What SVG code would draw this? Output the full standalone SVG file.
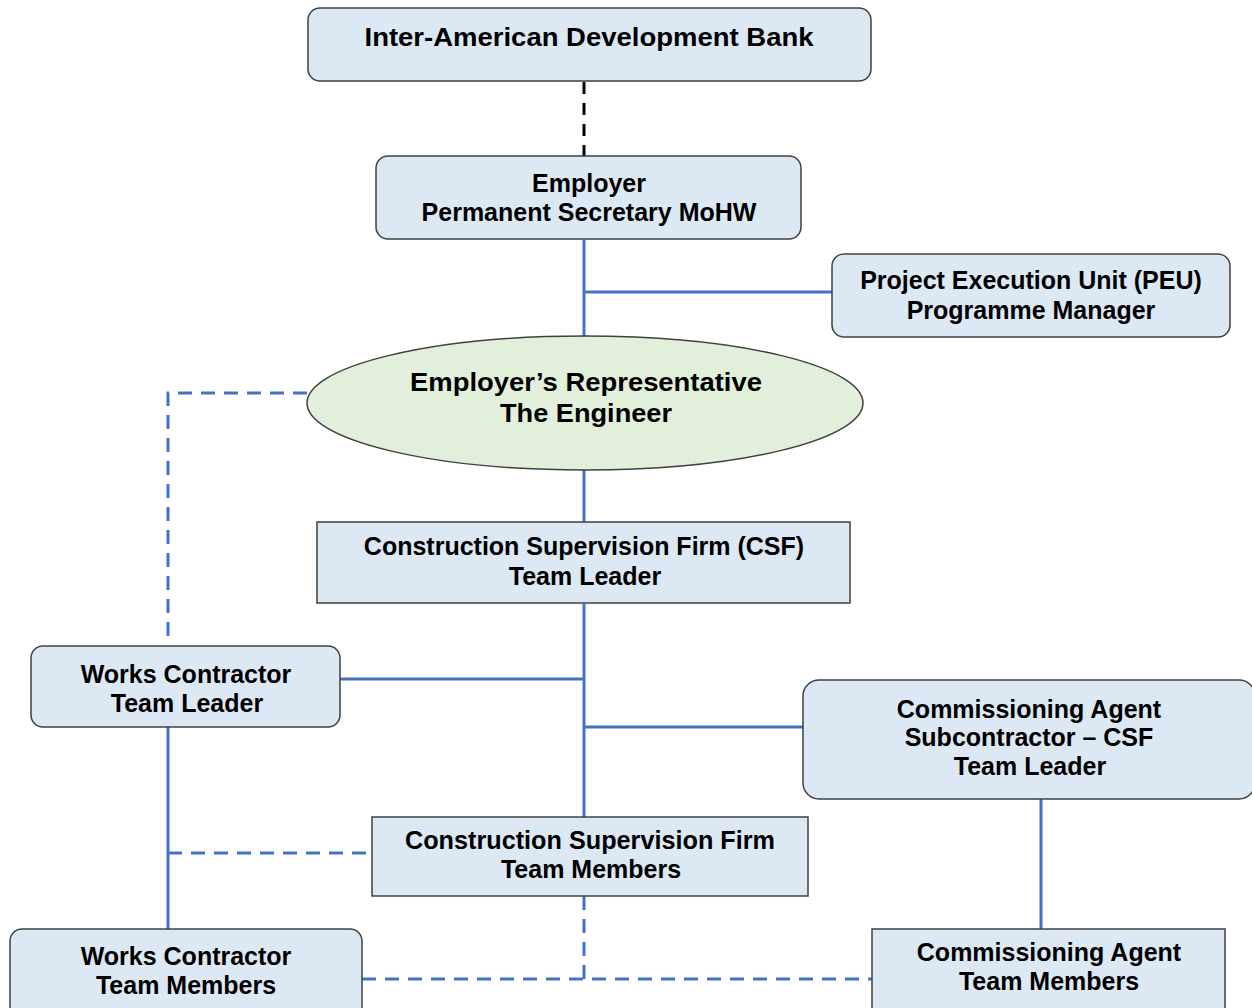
<svg xmlns="http://www.w3.org/2000/svg" width="1252" height="1008" viewBox="0 0 1252 1008">
<style>
.box{fill:#dde8f5;stroke:#404040;stroke-width:1.5}
.ell{fill:#e2efda;stroke:#404040;stroke-width:1.5}
.t{font-family:"Liberation Sans",Arial,sans-serif;font-weight:bold;font-size:25px;fill:#000;text-anchor:middle}
.solid{stroke:#4472c4;stroke-width:3;fill:none}
.dash{stroke:#4472c4;stroke-width:3;fill:none;stroke-dasharray:14 9}
.bdash{stroke:#000;stroke-width:3;fill:none;stroke-dasharray:12 9}
</style>
<rect width="1252" height="1008" fill="#fff"/>
<g id="connectors">
<line class="bdash" x1="584" y1="82" x2="584" y2="156"/>
<line class="solid" x1="584" y1="240" x2="584" y2="337"/>
<line class="solid" x1="584" y1="292" x2="832" y2="292"/>
<polyline class="dash" points="307,393 168,393 168,636"/>
<line class="solid" x1="584" y1="470" x2="584" y2="522"/>
<line class="solid" x1="584" y1="604" x2="584" y2="817"/>
<line class="solid" x1="340" y1="679" x2="584" y2="679"/>
<line class="solid" x1="584" y1="727" x2="803" y2="727"/>
<line class="solid" x1="1041" y1="799" x2="1041" y2="929"/>
<line class="solid" x1="168" y1="727" x2="168" y2="929"/>
<line class="dash" x1="168" y1="853" x2="372" y2="853"/>
<polyline class="dash" points="584,896 584,979"/>
<line class="dash" x1="362" y1="979" x2="872" y2="979"/>
</g>
<g id="idb">
<rect class="box" x="308" y="8" width="563" height="73" rx="12"/>
<text class="t" x="589" y="46" textLength="449" lengthAdjust="spacingAndGlyphs">Inter-American Development Bank</text>
</g>
<g id="employer">
<rect class="box" x="376" y="156" width="425" height="83" rx="12"/>
<text class="t" x="589" y="192">Employer</text>
<text class="t" x="589" y="221">Permanent Secretary MoHW</text>
</g>
<g id="peu">
<rect class="box" x="832" y="254" width="398" height="83" rx="12"/>
<text class="t" x="1031" y="289">Project Execution Unit (PEU)</text>
<text class="t" x="1031" y="319">Programme Manager</text>
</g>
<g id="engineer">
<ellipse class="ell" cx="585" cy="403" rx="278" ry="67"/>
<text class="t" x="586" y="391" textLength="352" lengthAdjust="spacingAndGlyphs">Employer’s Representative</text>
<text class="t" x="586" y="422" textLength="172" lengthAdjust="spacingAndGlyphs">The Engineer</text>
</g>
<g id="csf">
<rect class="box" x="317" y="522" width="533" height="81"/>
<text class="t" x="584" y="555">Construction Supervision Firm (CSF)</text>
<text class="t" x="585" y="585">Team Leader</text>
</g>
<g id="wc-leader">
<rect class="box" x="31" y="646" width="309" height="81" rx="12"/>
<text class="t" x="186" y="683">Works Contractor</text>
<text class="t" x="187" y="712">Team Leader</text>
</g>
<g id="ca-leader">
<rect class="box" x="803" y="680" width="452" height="119" rx="16"/>
<text class="t" x="1029" y="718">Commissioning Agent</text>
<text class="t" x="1029" y="746">Subcontractor – CSF</text>
<text class="t" x="1030" y="775">Team Leader</text>
</g>
<g id="csf-members">
<rect class="box" x="372" y="817" width="436" height="79"/>
<text class="t" x="590" y="849" textLength="370" lengthAdjust="spacingAndGlyphs">Construction Supervision Firm</text>
<text class="t" x="591" y="878">Team Members</text>
</g>
<g id="wc-members">
<rect class="box" x="10" y="929" width="352" height="90" rx="12"/>
<text class="t" x="186" y="965">Works Contractor</text>
<text class="t" x="186" y="994">Team Members</text>
</g>
<g id="ca-members">
<rect class="box" x="872" y="929" width="353" height="90"/>
<text class="t" x="1049" y="961">Commissioning Agent</text>
<text class="t" x="1049" y="990">Team Members</text>
</g>
</svg>
